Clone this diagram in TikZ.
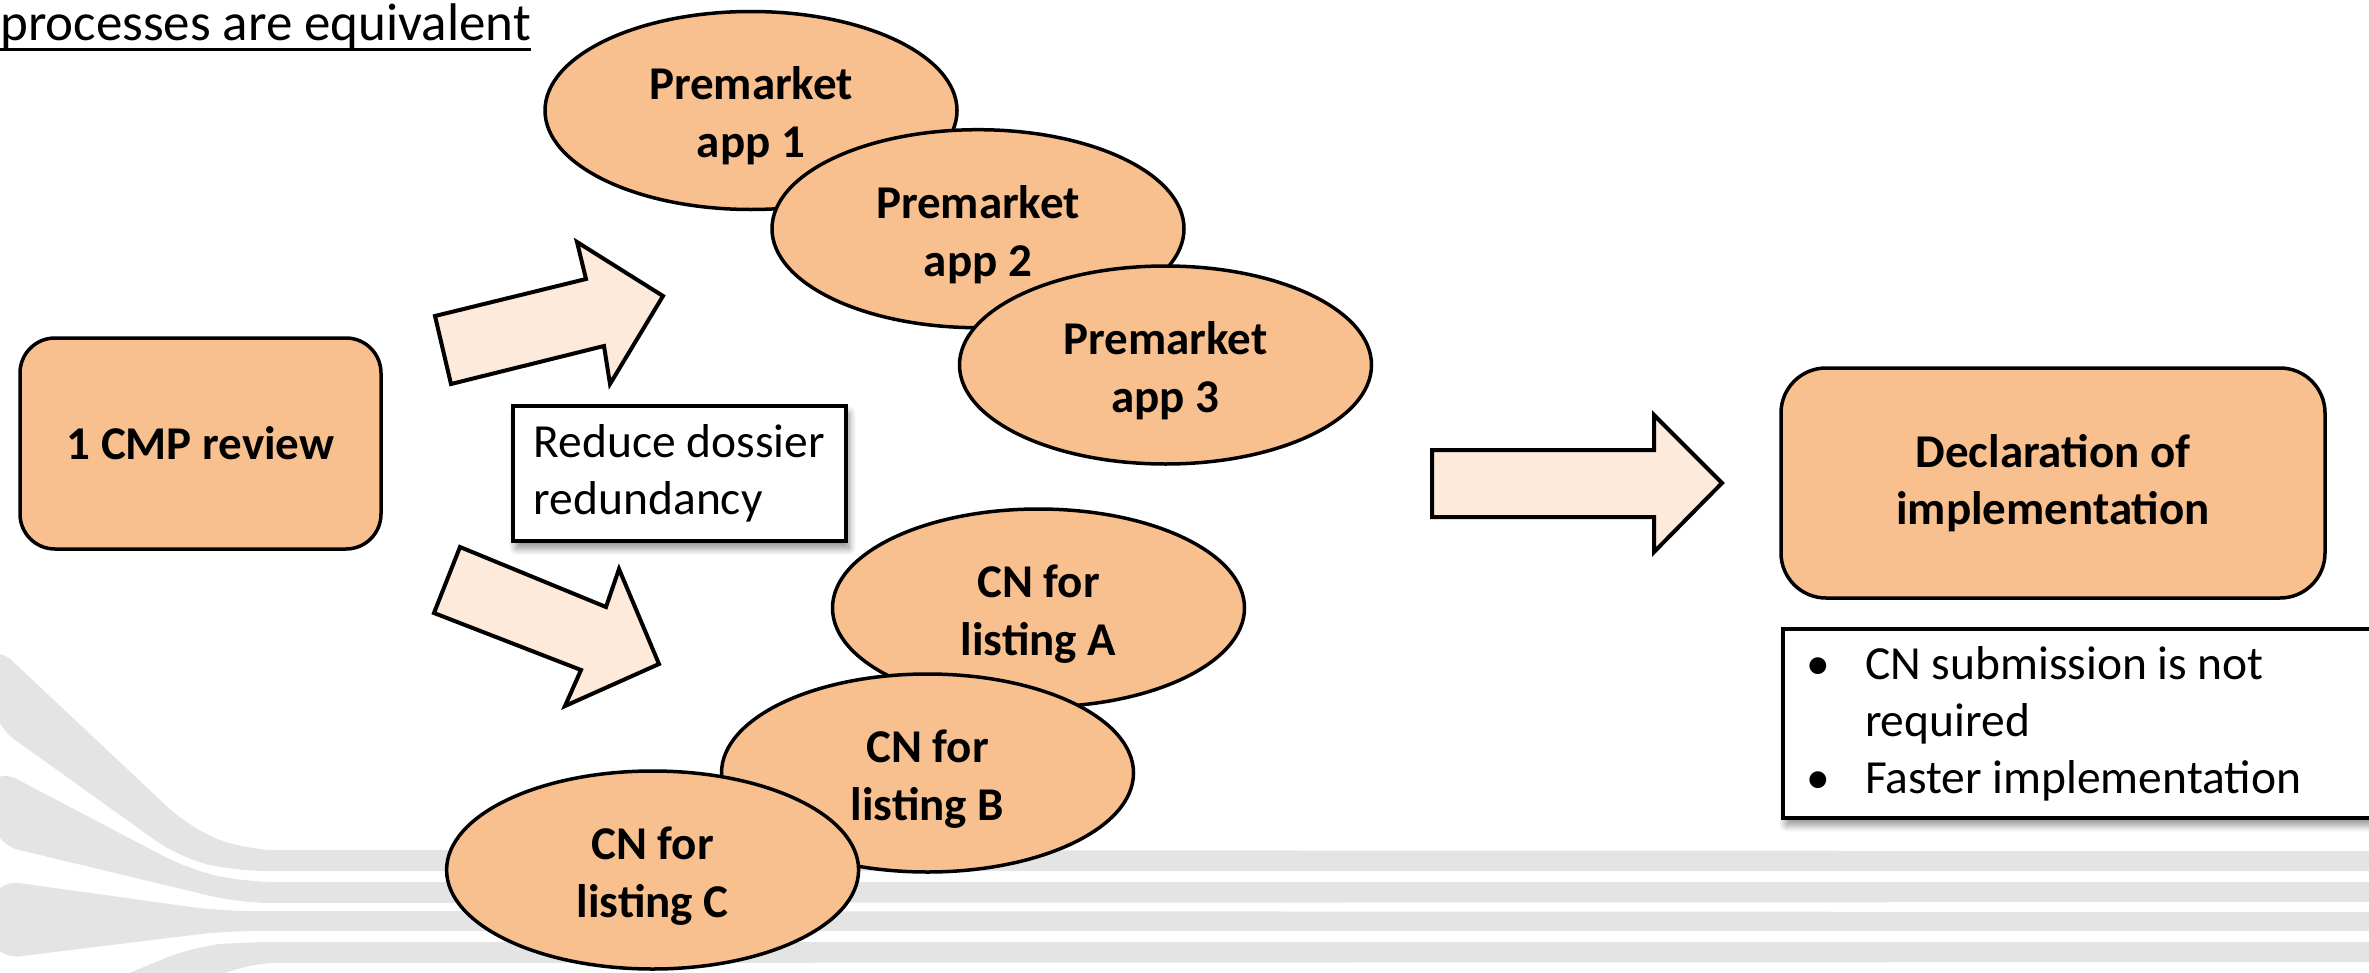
\documentclass[tikz,border=0pt]{standalone}
\usepackage{fontspec}
\setmainfont{Carlito}
\usetikzlibrary{shapes.geometric,shadows.blur}
\definecolor{orfill}{HTML}{F8C08F}
\definecolor{arrfill}{HTML}{FDEADA}
\definecolor{bggray}{HTML}{E4E4E4}
\newcommand{\ovlift}{\rule{0pt}{44pt}}
\tikzset{
  oval/.style={ellipse, draw=black, line width=3.5pt, fill=orfill,
    minimum width=412pt, minimum height=198pt, inner sep=0pt, align=center,
    font=\bfseries\fontsize{47}{58}\selectfont},
  rbox/.style={rectangle, draw=black, line width=3.5pt, fill=orfill, align=center,
    inner sep=0pt, font=\bfseries\fontsize{47}{57}\selectfont},
  blockarrow/.style={draw=black, line width=4pt, fill=arrfill, line join=miter},
  textbox/.style={rectangle, draw=black, line width=4pt, fill=white, align=flush left,
    font=\fontsize{47.5}{57}\selectfont,
    blur shadow={shadow xshift=3pt, shadow yshift=-7pt, shadow blur steps=10,
      shadow blur radius=7pt, shadow opacity=45}},
  band/.style={fill=bggray, draw=none, rounded corners=30pt},
}
\begin{document}
\begin{tikzpicture}[x=1pt, y=-1pt]
\useasboundingbox (0,0) rectangle (2369,972);
% background stripes
\fill[band] (-10,640) -- (190,828) -- (245,850) -- (2400,851) -- (2400,871) -- (235,871) -- (180,858) -- (-10,722) -- cycle;
\fill[band] (-10,765) -- (190,870) -- (245,882) -- (2400,882) -- (2400,902) -- (240,903) -- (-10,843) -- cycle;
\fill[band] (-10,879) -- (220,911) -- (2400,912) -- (2400,931) -- (225,931) -- (-10,960) -- cycle;
\fill[band] (100,985) -- (195,946) -- (245,942) -- (2400,942) -- (2400,962) -- (245,963) -- (200,985) -- cycle;

% title
\node[anchor=base west, inner sep=0pt, font=\fontsize{53}{63}\selectfont] (title) at (0,40) {processes are equivalent};
\draw[line width=3pt] ([yshift=-9pt]title.base west) -- ([yshift=-9pt]title.base east);

% left box
\node[rbox, rounded corners=35pt, minimum width=361pt, minimum height=211pt] (cmp) at (200.5,443.5) {1 CMP review};

% block arrows
\draw[blockarrow] (435,316) -- (586,279) -- (577,242) -- (663,296) -- (610,384) -- (604,346) -- (451,384) -- cycle;
\draw[blockarrow] (460,547) -- (606,607) -- (619,569) -- (659,664) -- (565,706) -- (581,670) -- (434,613) -- cycle;
\draw[blockarrow] (1432,450) -- (1654,450) -- (1654,415) -- (1722,483) -- (1654,552) -- (1654,517) -- (1432,517) -- cycle;

% reduce box
\node[textbox, minimum width=333pt, minimum height=135pt, inner sep=0pt] (reduce) at (679.5,473.7) {Reduce dossier\\redundancy};

% premarket ellipses
\node[oval] (app1) at (751,110.5) {\ovlift Premarket\\app 1};
\node[oval] (app2) at (978,228.7) {\ovlift Premarket\\app 2};
\node[oval] (app3) at (1165.5,365) {\ovlift Premarket\\app 3};

% CN ellipses
\node[oval] (cna) at (1038.5,608) {\ovlift CN for\\listing A};
\node[oval] (cnb) at (927.5,773) {\ovlift CN for\\listing B};
\node[oval] (cnc) at (652.6,870) {\ovlift CN for\\listing C};

% declaration box
\node[rbox, rounded corners=45pt, minimum width=544pt, minimum height=230pt] (decl) at (2053,483) {Declaration of\\implementation};

% bullet box
\node[textbox, anchor=north west, inner xsep=23pt, inner ysep=0pt, text width=560pt, minimum height=189pt] (bullets) at (1781,627)
 {\makebox[59pt][l]{•}CN submission is not\\\hspace*{59pt}required\\\makebox[59pt][l]{•}Faster implementation};
\end{tikzpicture}
\end{document}
